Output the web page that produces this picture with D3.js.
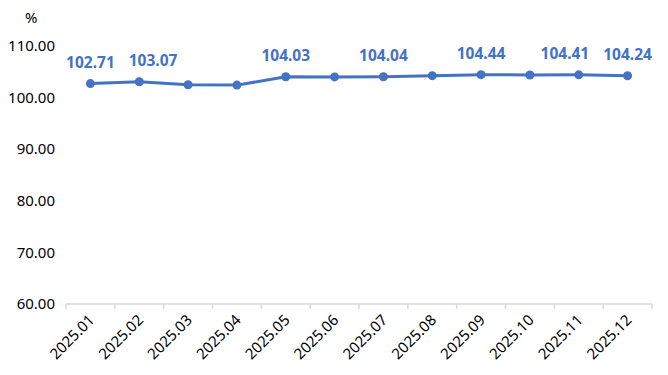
<!DOCTYPE html>
<html>
<head>
<meta charset="utf-8">
<script src="https://cdn.jsdelivr.net/npm/d3@7"></script>
<style>
  body { margin: 0; background: #fff; }
  text { font-family: "Noto Sans", "DejaVu Sans", sans-serif; }
</style>
</head>
<body>
<div id="chart"></div>
<script>
var months = ['2025.01', '2025.02', '2025.03', '2025.04', '2025.05', '2025.06',
              '2025.07', '2025.08', '2025.09', '2025.10', '2025.11', '2025.12'];
var values = [102.71, 103.07, 102.48, 102.42, 104.03, 104.01,
              104.04, 104.25, 104.44, 104.38, 104.41, 104.24];
// which points carry a label
var labelled = [true, true, false, false, true, false, true, false, true, false, true, true];
var yTicks = [60, 70, 80, 90, 100, 110];

var width = 668, height = 375;
var margin = { left: 66, right: 16, top: 46, bottom: 71 };
var color = '#4472C4';

var svg = d3.select('#chart').append('svg')
  .attr('width', width)
  .attr('height', height);

var x = d3.scaleBand()
  .domain(months)
  .range([margin.left, width - margin.right]);

var y = d3.scaleLinear()
  .domain([60, 110])
  .range([height - margin.bottom, margin.top]);

// y labels, no axis line
svg.selectAll('.ylab')
  .data(yTicks)
  .enter().append('text')
  .attr('class', 'ylab')
  .attr('x', 55)
  .attr('y', function(d) { return y(d); })
  .attr('dy', '0.35em')
  .attr('text-anchor', 'end')
  .attr('font-size', 15)
  .attr('fill', '#000')
  .text(function(d) { return d.toFixed(2); });

svg.append('text')
  .attr('x', 25)
  .attr('y', 23)
  .attr('font-size', 15)
  .attr('fill', '#000')
  .text('%');

// x axis
var base = y(60);
svg.append('line')
  .attr('x1', x.range()[0]).attr('x2', x.range()[1])
  .attr('y1', base).attr('y2', base)
  .attr('stroke', '#d9d9d9').attr('stroke-width', 1.5);

var edges = months.map(function(m) { return x(m); }).concat([x.range()[1]]);
svg.selectAll('.tick')
  .data(edges)
  .enter().append('line')
  .attr('x1', function(d) { return d; }).attr('x2', function(d) { return d; })
  .attr('y1', base).attr('y2', base + 5)
  .attr('stroke', '#d9d9d9').attr('stroke-width', 1.5);

svg.selectAll('.xlab')
  .data(months)
  .enter().append('text')
  .attr('font-size', 15)
  .attr('fill', '#000')
  .attr('text-anchor', 'end')
  .attr('transform', function(d) {
    return 'translate(' + (x(d) + x.bandwidth() / 2 + 5) + ',' + (base + 17) + ') rotate(-45)';
  })
  .text(function(d) { return d; });

// line
var pts = months.map(function(m, i) { return { m: m, v: values[i], lab: labelled[i], i: i }; });
var cx = function(d) { return x(d.m) + x.bandwidth() / 2; };
var line = d3.line()
  .x(cx)
  .y(function(d) { return y(d.v); });

svg.append('path')
  .datum(pts)
  .attr('d', line)
  .attr('fill', 'none')
  .attr('stroke', color)
  .attr('stroke-width', 3);

svg.selectAll('.dot')
  .data(pts)
  .enter().append('circle')
  .attr('cx', cx)
  .attr('cy', function(d) { return y(d.v); })
  .attr('r', 4.5)
  .attr('fill', color);

var labs = svg.selectAll('.vlab')
  .data(pts.filter(function(d) { return d.lab; }))
  .enter().append('text')
  .attr('class', 'vlab')
  .attr('x', cx)
  .attr('y', function(d) { return y(d.v) - 16; })
  .attr('text-anchor', 'middle')
  .attr('font-size', 15.5)
  .attr('font-weight', 'bold')
  .attr('fill', color)
  .text(function(d) { return d.v.toFixed(2); });

// push apart labels of neighbouring points, keep the end ones in place
var gap = 14;
var nodes = labs.nodes();
nodes.forEach(function(n, k) {
  if (k === 0) return;
  var prev = nodes[k - 1];
  var a = prev.getBBox(), b = n.getBBox();
  var need = a.x + a.width + gap - b.x;
  if (need <= 0) return;
  var last = d3.select(n).datum().i === months.length - 1;
  var target = last ? prev : n;
  var shift = last ? -need : need;
  d3.select(target).attr('x', +d3.select(target).attr('x') + shift);
});
</script>
</body>
</html>
